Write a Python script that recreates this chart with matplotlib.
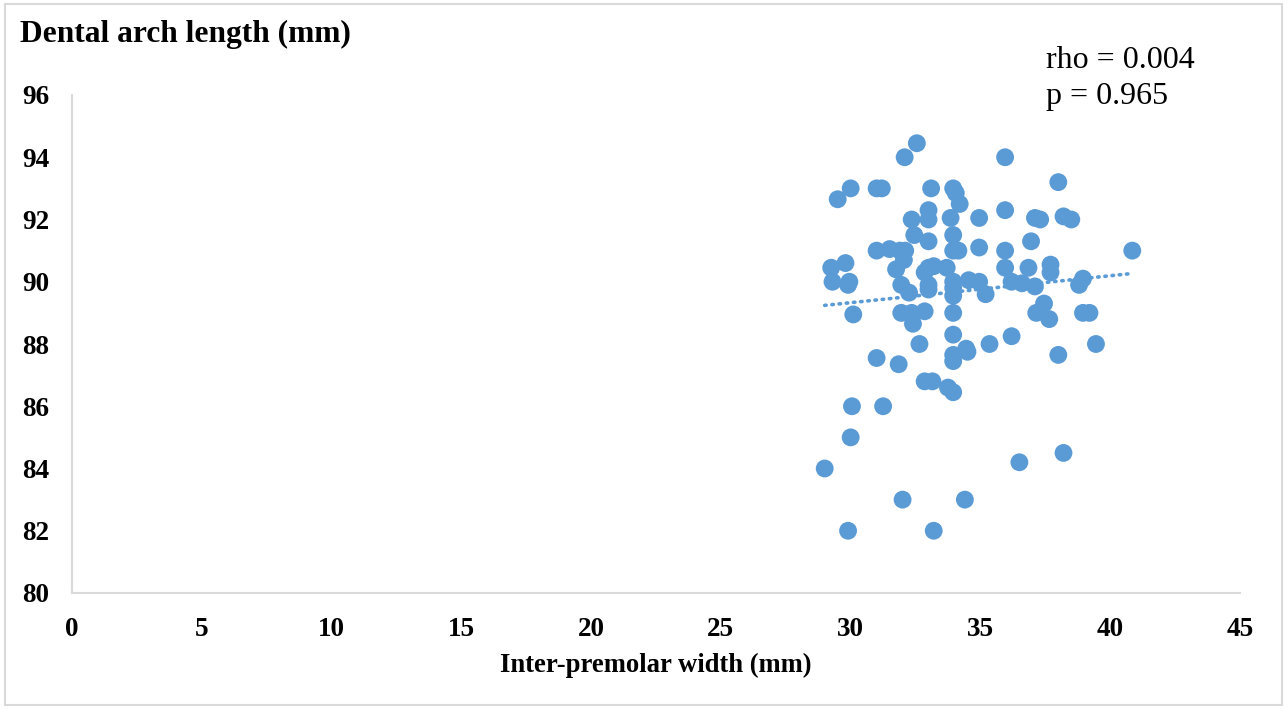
import numpy as np
import matplotlib
matplotlib.use("Agg")
from matplotlib import pyplot as plt
from matplotlib.patches import Rectangle

# inter-premolar width (mm)
width = [
    32.55, 32.08, 30.0, 29.5, 31.0, 31.2, 33.1, 33.95, 34.05, 34.2,
    33.0, 32.35, 33.0, 33.85, 34.95, 32.45, 33.95, 33.0, 31.0, 31.5,
    31.9, 32.1, 32.05, 33.95, 34.15, 34.95, 31.75, 29.8, 29.25, 29.3,
    29.95, 29.9, 33.0, 33.2, 32.85, 33.7, 31.95, 32.25, 33.0, 33.0,
    33.95, 33.95, 33.95, 34.55, 34.95, 35.2, 30.1, 31.95, 32.35, 32.85,
    32.4, 33.95, 33.95, 35.95, 38.0, 35.95, 37.1, 37.3, 38.2, 38.5,
    35.95, 36.95, 40.85, 35.95, 36.85, 37.7, 37.7, 36.2, 36.6, 37.1,
    38.95, 38.8, 37.45, 37.15, 37.65, 38.95, 39.2, 36.2, 32.65, 35.35,
    33.95, 33.95, 34.45, 34.5, 31.0, 31.85, 32.85, 33.15, 33.75, 33.95,
    30.05, 31.25, 30.0, 29.0, 32.0, 34.4, 29.9, 33.2, 38.0, 39.45,
    36.5, 38.2,
]
# dental arch length (mm)
arch = [
    94.45, 94.0, 93.0, 92.65, 93.0, 93.0, 93.0, 93.0, 92.85, 92.5,
    92.3, 92.0, 92.0, 92.05, 92.05, 91.5, 91.5, 91.3, 91.0, 91.05,
    91.0, 91.0, 90.7, 91.0, 91.0, 91.1, 90.4, 90.6, 90.45, 90.0,
    90.0, 89.9, 90.45, 90.5, 90.3, 90.45, 89.9, 89.65, 89.9, 89.75,
    90.0, 89.8, 89.55, 90.05, 90.0, 89.6, 88.95, 89.0, 89.0, 89.05,
    88.65, 89.0, 88.3, 94.0, 93.2, 92.3, 92.05, 92.0, 92.1, 92.0,
    91.0, 91.3, 91.0, 90.45, 90.45, 90.55, 90.3, 90.0, 89.95, 89.85,
    90.1, 89.9, 89.3, 89.0, 88.8, 89.0, 89.0, 88.25, 88.0, 88.0,
    87.65, 87.45, 87.85, 87.75, 87.55, 87.35, 86.8, 86.8, 86.6, 86.45,
    86.0, 86.0, 85.0, 84.0, 83.0, 83.0, 82.0, 82.0, 87.65, 88.0,
    84.2, 84.5,
]
x_ticks = [0, 5, 10, 15, 20, 25, 30, 35, 40, 45]
y_ticks = [80, 82, 84, 86, 88, 90, 92, 94, 96]

blue = "#5B9BD5"
grey = "#D9D9D9"

plt.rcParams["font.family"] = ["Liberation Serif", "DejaVu Serif"]

fig = plt.figure(figsize=(12.88, 7.09), dpi=100)
ax = fig.add_axes([72 / 1288, 116 / 709, 1168 / 1288, 498 / 709])

ax.scatter(width, arch, s=165, color=blue, edgecolors="none", zorder=3)

# linear trend line
w = np.array(width)
slope, icpt = np.polyfit(w, np.array(arch), 1)
tx = np.array([w.min(), w.max()])
ax.plot(tx, slope * tx + icpt, color=blue, linewidth=2.6,
        linestyle=(0, (0.4, 1.6)), dash_capstyle="round", zorder=2)

ax.set_xlim(0, 45)
ax.set_ylim(80, 96)
ax.set_xticks(x_ticks)
ax.set_yticks(y_ticks)
ax.tick_params(length=0, labelsize=19.5)
ax.tick_params(axis="y", pad=16.5)
ax.tick_params(axis="x", pad=17)
for lab in ax.get_xticklabels() + ax.get_yticklabels():
    lab.set_fontweight("bold")

for side in ["top", "right"]:
    ax.spines[side].set_visible(False)
for side in ["left", "bottom"]:
    ax.spines[side].set_color(grey)
    ax.spines[side].set_linewidth(1.5)

fig.text(20 / 1288, 1 - 42 / 709, "Dental arch length (mm)", fontsize=22.7,
         fontweight="bold", ha="left", va="baseline")
fig.text(656 / 1288, 1 - 672 / 709, "Inter-premolar width (mm)", fontsize=19.2,
         fontweight="bold", ha="center", va="baseline")
fig.text(1046 / 1288, 1 - 68 / 709, "rho = 0.004", fontsize=23,
         ha="left", va="baseline")
fig.text(1046 / 1288, 1 - 104 / 709, "p = 0.965", fontsize=23,
         ha="left", va="baseline")

fig.patches.append(Rectangle((5 / 1288, 4 / 709), 1277 / 1288, 701 / 709,
                             transform=fig.transFigure, fill=False,
                             edgecolor=grey, linewidth=1.5))

fig.savefig("out.png", dpi=100)
